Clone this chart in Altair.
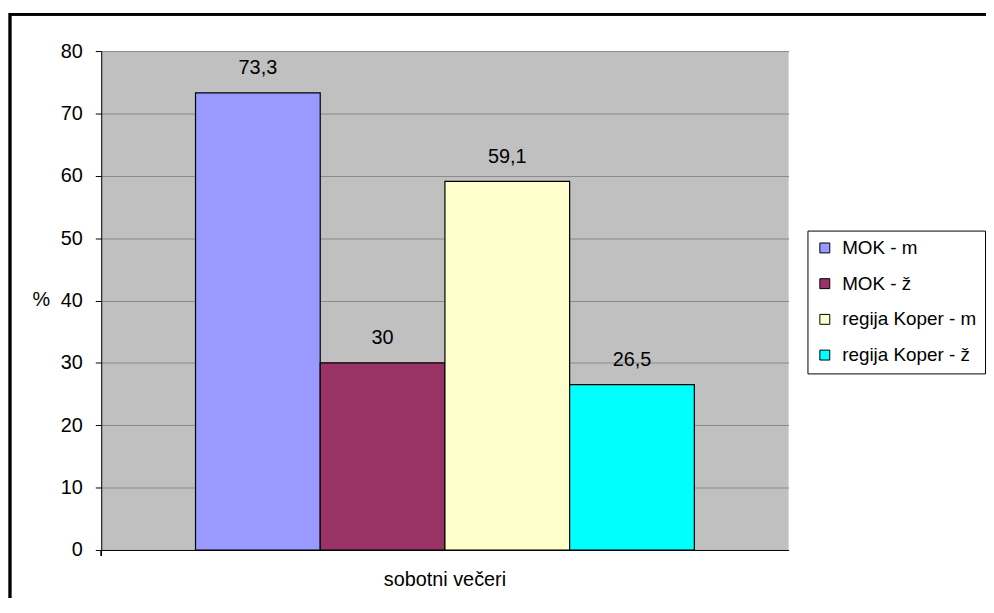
import altair as alt
import pandas as pd

category = "sobotni večeri"
series = ["MOK - m", "MOK - ž", "regija Koper - m", "regija Koper - ž"]
values = [73.3, 30, 59.1, 26.5]
labels = ["73,3", "30", "59,1", "26,5"]
colors = ["#9999FF", "#993366", "#FFFFCC", "#00FFFF"]
y_ticks = [0, 10, 20, 30, 40, 50, 60, 70, 80]

df = pd.DataFrame({
    "cat": [category] * len(series),
    "series": series,
    "value": values,
    "label": labels,
})

FONT = "Liberation Sans"
FS = 20

x_enc = alt.X(
    "cat:N",
    scale=alt.Scale(paddingInner=0, paddingOuter=0.189),
    axis=alt.Axis(title=None, labelAngle=0, ticks=False, domain=True,
                  domainColor="black", domainWidth=1, labelFontSize=FS,
                  labelFont=FONT, labelColor="black", labelPadding=20),
)
xoff_enc = alt.XOffset("series:N", sort=series,
                       scale=alt.Scale(domain=series, paddingInner=0, paddingOuter=0))
y_enc = alt.Y(
    "value:Q",
    scale=alt.Scale(domain=[0, 80], nice=False),
    axis=alt.Axis(values=y_ticks, title="%", titleAngle=0, titleX=-61, titleY=251,
                  titleAlign="center", titleBaseline="middle", titleFont=FONT,
                  titleFontSize=FS, titleFontWeight="normal", titleColor="black",
                  labelFont=FONT, labelFontSize=FS, labelColor="black",
                  labelPadding=13, tickSize=6, tickColor="black", domainColor="black",
                  grid=True, gridColor="#8a8a8a", gridWidth=1),
)

base = alt.Chart(df)

border = base.mark_rect(fill=None, stroke="black", strokeWidth=2.5).encode(
    x=alt.value(-92), x2=alt.value(1000), y=alt.value(-37), y2=alt.value(700)
)

bars = base.mark_bar(stroke="black", strokeWidth=1.2, opacity=1).encode(
    x=x_enc,
    xOffset=xoff_enc,
    y=y_enc,
    color=alt.Color(
        "series:N",
        sort=series,
        scale=alt.Scale(domain=series, range=colors),
        legend=alt.Legend(
            title=None, orient="none", legendX=712, legendY=181,
            strokeColor="black", fillColor="white", padding=8,
            symbolType="square", symbolSize=100, symbolStrokeColor="black",
            symbolStrokeWidth=1, symbolOpacity=1, labelFont=FONT,
            labelFontSize=19, labelColor="black", labelOffset=8,
            rowPadding=16, labelLimit=400,
        ),
    ),
)

text = base.mark_text(font=FONT, fontSize=FS, color="black", baseline="middle",
                      dy=-25).encode(
    x=x_enc, xOffset=xoff_enc, y=y_enc, text="label:N"
)

zero_tick = base.mark_rule(color="black").encode(
    x=alt.value(0), y=alt.value(503), y2=alt.value(509)
)

chart = alt.layer(border, bars, text, zero_tick).properties(
    width=693, height=503,
    autosize=alt.AutoSizeParams(type="none"),
    padding={"left": 94, "top": 41, "right": 199, "bottom": 46},
    background="white",
).configure_view(fill="#C0C0C0", stroke=None)

chart.save("out.html", embed_options={"renderer": "svg", "actions": False})
